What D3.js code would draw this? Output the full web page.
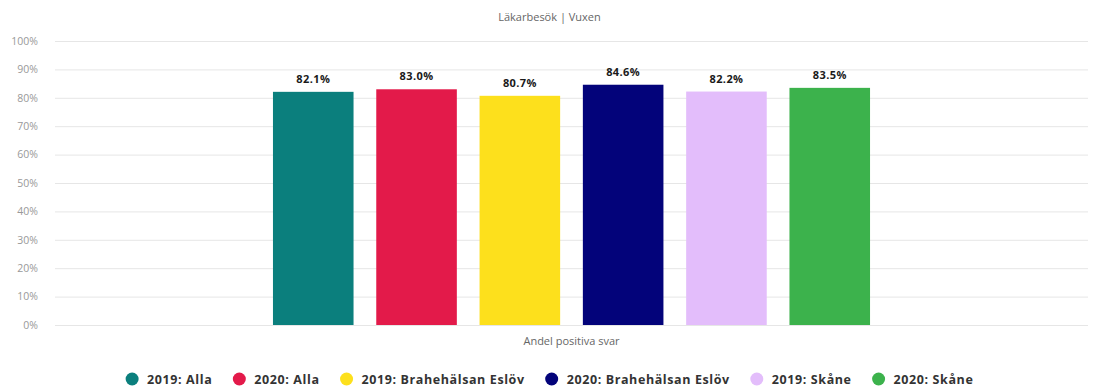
<!DOCTYPE html>
<html>
<head>
<meta charset="utf-8">
<script src="https://cdn.jsdelivr.net/npm/d3@7"></script>
<style>
  html, body { margin: 0; padding: 0; background: #fff; }
  svg { display: block; font-family: "Open Sans", "Noto Sans", sans-serif; }
</style>
</head>
<body>
<svg id="chart" width="1099" height="387"></svg>
<script>
// Data
const category = "Andel positiva svar";
const seriesNames = ["2019: Alla", "2020: Alla", "2019: Brahehälsan Eslöv", "2020: Brahehälsan Eslöv", "2019: Skåne", "2020: Skåne"];
const seriesValues = [82.1, 83.0, 80.7, 84.6, 82.2, 83.5];
const seriesColors = ["#0b7f7d", "#e31a4a", "#fde01c", "#03037a", "#e3bdfb", "#3cb24c"];
const yTicks = [0, 10, 20, 30, 40, 50, 60, 70, 80, 90, 100];
const subtitle = "Läkarbesök | Vuxen";

const W = 1099, H = 387;
const margin = { left: 55, right: 11, top: 41, bottom: 62 };
const plotW = W - margin.left - margin.right;
const groupPadding = 0.2;
const svg = d3.select("#chart");

// One category; the group of columns keeps 20% of the plot width free on each side
const x0 = d3.scaleBand().domain([category])
  .range([margin.left + groupPadding * plotW, W - margin.right - groupPadding * plotW]);
const x1 = d3.scaleBand().domain(seriesNames).range([0, x0.bandwidth()]).paddingInner(0.22).paddingOuter(0.11);
const y = d3.scaleLinear().domain([0, 100]).range([H - margin.bottom, margin.top]);

// Subtitle
svg.append("text")
  .attr("x", W / 2).attr("y", 21)
  .attr("text-anchor", "middle")
  .attr("fill", "#666").attr("font-size", 11)
  .text(subtitle);

// Gridlines + y-axis labels
const yAxis = d3.axisLeft(y).tickValues(yTicks).tickFormat(d => d + "%")
  .tickSize(-plotW).tickPadding(17);
const gy = svg.append("g").attr("transform", `translate(${margin.left},0)`).call(yAxis);
gy.select(".domain").remove();
gy.selectAll(".tick line").attr("stroke", "#e6e6e6");
gy.selectAll(".tick text").attr("fill", "#999").attr("font-size", 10.5).attr("font-family", "Open Sans");

// Bars
const g = svg.append("g").attr("transform", `translate(${x0(category)},0)`);
g.selectAll("rect").data(seriesValues).join("rect")
  .attr("x", (d, i) => x1(seriesNames[i]))
  .attr("width", x1.bandwidth())
  .attr("y", d => y(d))
  .attr("height", d => y(0) - y(d))
  .attr("fill", (d, i) => seriesColors[i]);

// Data labels
g.selectAll("text.val").data(seriesValues).join("text")
  .attr("class", "val")
  .attr("x", (d, i) => x1(seriesNames[i]) + x1.bandwidth() / 2)
  .attr("y", d => y(d) - 9)
  .attr("text-anchor", "middle")
  .attr("font-size", 11).attr("font-weight", "bold").attr("fill", "#1a1a1a")
  .attr("letter-spacing", 0.4)
  .text(d => d.toFixed(1) + "%");

// Category axis label
svg.append("text")
  .attr("x", x0(category) + x0.bandwidth() / 2).attr("y", 345)
  .attr("text-anchor", "middle").attr("fill", "#666").attr("font-size", 11)
  .text(category);

// Legend: circle marker, label 15px right of its centre, 27px from label end to next marker
const legend = svg.append("g");
const items = legend.selectAll("g").data(seriesNames).join("g");
items.append("circle").attr("r", 6.5).attr("cy", -4.5).attr("fill", (d, i) => seriesColors[i]);
items.append("text").attr("x", 15).attr("y", 0)
  .attr("font-size", 12.5).attr("font-weight", "bold").attr("fill", "#333")
  .attr("letter-spacing", 0.6)
  .text(d => d);
let cx = 0;
const pos = [];
items.each(function () {
  const tw = d3.select(this).select("text").node().getComputedTextLength();
  pos.push(cx);
  cx += 15 + tw + 27;
});
const total = cx - 27 + 6.5; // from first marker's left edge (-6.5) to last label end
const startX = 549.5 - total / 2 + 6.5;
items.attr("transform", (d, i) => `translate(${startX + pos[i]},383.5)`);
</script>
</body>
</html>
